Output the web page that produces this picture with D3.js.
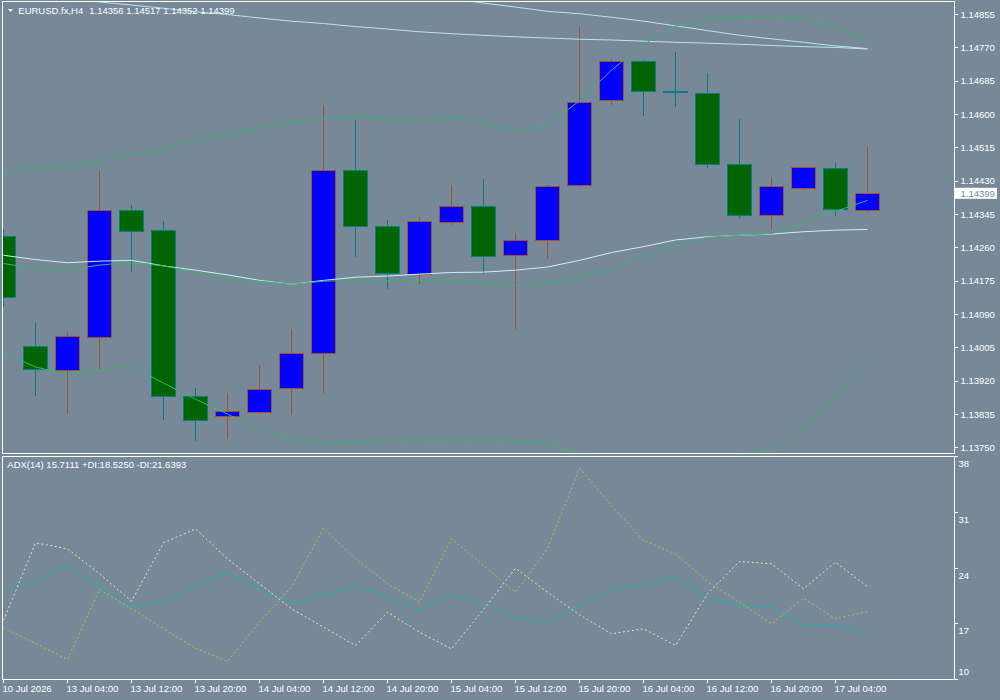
<!DOCTYPE html>
<html><head><meta charset="utf-8">
<script src="https://cdn.jsdelivr.net/npm/d3@7"></script>
<style>
html,body{margin:0;padding:0;background:#778899;}
svg{display:block;}
text{font-family:"Liberation Sans",Arial,sans-serif;font-size:9.5px;fill:#ffffff;}
</style></head><body>
<svg id="c" width="1000" height="700"></svg>
<script>
// ---------- data ----------
const symbol = "EURUSD.fx,H4";
const tickIdx = [0,2,4,6,8,10,12,14,16,18,20,22,24,26];
const tickLabels = ["10 Jul 2026","13 Jul 04:00","13 Jul 12:00","13 Jul 20:00","14 Jul 04:00","14 Jul 12:00","14 Jul 20:00","15 Jul 04:00","15 Jul 12:00","15 Jul 20:00","16 Jul 04:00","16 Jul 12:00","16 Jul 20:00","17 Jul 04:00"];

const open  = [1.14290,1.14009,1.13946,1.14031,1.14355,1.14304,1.13881,1.13830,1.13840,1.13901,1.13991,1.14457,1.14314,1.14192,1.14325,1.14365,1.14240,1.14279,1.14419,1.14636,1.14735,1.14658,1.14654,1.14473,1.14342,1.14411,1.14462,1.14356];
const high  = [1.14307,1.14070,1.14045,1.14455,1.14369,1.14328,1.13902,1.13889,1.13961,1.14053,1.14624,1.14586,1.14331,1.14338,1.14420,1.14435,1.14297,1.14420,1.14823,1.14743,1.14739,1.14759,1.14705,1.14588,1.14440,1.14465,1.14478,1.14517];
const low   = [1.14109,1.13882,1.13836,1.13951,1.14199,1.13821,1.13768,1.13773,1.13836,1.13833,1.13890,1.14237,1.14155,1.14168,1.14318,1.14194,1.14053,1.14232,1.14415,1.14624,1.14596,1.14619,1.14464,1.14336,1.14308,1.14408,1.14341,1.14352];
const close = [1.14133,1.13950,1.14034,1.14355,1.14302,1.13881,1.13820,1.13843,1.13899,1.13991,1.14457,1.14314,1.14194,1.14327,1.14365,1.14238,1.14279,1.14416,1.14631,1.14735,1.14659,1.14657,1.14473,1.14342,1.14416,1.14465,1.14358,1.14399];

// Bollinger bands (green)
const bbUpper  = [1.14450,1.14467,1.14468,1.14481,1.14496,1.14514,1.14535,1.14550,1.14565,1.14580,1.14589,1.14596,1.14589,1.14587,1.14594,1.14580,1.14555,1.14573,1.14635,1.14713,1.14779,1.14825,1.14843,1.14848,1.14851,1.14847,1.14823,1.14788];
const bbMiddle = [1.14220,1.14207,1.14203,1.14216,1.14223,1.14214,1.14198,1.14183,1.14175,1.14167,1.14175,1.14177,1.14176,1.14177,1.14175,1.14170,1.14165,1.14170,1.14185,1.14208,1.14236,1.14264,1.14287,1.14292,1.14296,1.14324,1.14353,1.14381];
const bbLower  = [1.13992,1.13956,1.13938,1.13949,1.13958,1.13915,1.13874,1.13836,1.13795,1.13771,1.13763,1.13764,1.13766,1.13767,1.13767,1.13766,1.13767,1.13760,1.13735,1.13703,1.13693,1.13703,1.13731,1.13736,1.13741,1.13801,1.13883,1.13973];

// light cyan lines
const cyanMiddle = [1.14241,1.14230,1.14222,1.14226,1.14228,1.14214,1.14203,1.14191,1.14177,1.14167,1.14177,1.14185,1.14188,1.14193,1.14197,1.14198,1.14203,1.14211,1.14228,1.14248,1.14263,1.14280,1.14288,1.14292,1.14295,1.14301,1.14305,1.14307];
const cyanUpperA = [1.14912,1.14904,1.14895,1.14887,1.14879,1.14871,1.14862,1.14855,1.14846,1.14838,1.14832,1.14824,1.14818,1.14811,1.14806,1.14802,1.14798,1.14795,1.14792,1.14790,1.14787,1.14784,1.14782,1.14779,1.14776,1.14773,1.14771,1.14767];
const cyanUpperB = [null,null,null,null,null,null,null,null,null,null,null,1.14937,1.14922,1.14907,1.14895,1.14884,1.14874,1.14863,1.14857,1.14848,1.14838,1.14826,1.14814,1.14802,1.14793,1.14784,1.14775,1.14768];

// ADX(14)
const adx     = [21.17,22.30,24.31,21.68,19.00,19.83,21.68,23.47,21.43,19.42,20.67,21.80,20.30,18.66,20.63,19.48,17.82,17.19,19.23,21.26,22.05,22.84,20.33,19.29,19.08,16.90,16.87,15.7111];
const plusDI  = [16.49,14.52,12.51,21.30,18.88,16.37,13.93,12.26,17.19,21.59,29.00,25.15,22.02,19.71,27.67,24.31,20.96,26.41,36.53,31.85,27.45,25.78,22.30,19.71,16.99,20.21,17.62,18.5250];
const minusDI = [17.41,27.16,26.41,23.27,19.83,27.16,28.92,25.15,22.02,18.88,16.57,14.27,18.45,15.94,13.85,18.79,23.97,20.96,18.12,15.74,16.37,14.27,20.76,24.82,24.53,21.39,24.73,21.6393];

const priceTicks = [1.13750,1.13835,1.13920,1.14005,1.14090,1.14175,1.14260,1.14345,1.14430,1.14515,1.14600,1.14685,1.14770,1.14855];
const adxTicks = [10,17,24,31,38];

// ---------- drawing ----------
const svg = d3.select("#c");
const n = close.length;
const x = d3.scaleLinear().domain([0, n-1]).range([3.5, 867.5]);
const yP = d3.scaleLinear().domain([1.13750, 1.14855]).range([447.8, 14.5]);
const yA = d3.scaleLinear().domain([10, 38]).range([679.5, 456.5]);

const main = {x:2.5, y:1.5, w:952, h:452};
const sub  = {x:2.5, y:456.5, w:952, h:223};

svg.append("rect").attr("width",1000).attr("height",700).attr("fill","#778899");

const defs = svg.append("defs");
defs.append("clipPath").attr("id","clipMain").append("rect")
  .attr("x",main.x+0.5).attr("y",main.y+0.5).attr("width",main.w-1).attr("height",main.h-1);
defs.append("clipPath").attr("id","clipSub").append("rect")
  .attr("x",sub.x+0.5).attr("y",sub.y+0.5).attr("width",sub.w-1).attr("height",sub.h-1);

const gMain = svg.append("g").attr("clip-path","url(#clipMain)");
const bull = "#0000ff", bear = "#006400", bullLine = "#a0522d", bearLine = "#008080";
const idx = d3.range(n);

// wicks
gMain.selectAll("line.wick").data(idx).enter().append("line")
  .attr("x1", i => x(i)).attr("x2", i => x(i))
  .attr("y1", i => yP(high[i])).attr("y2", i => yP(low[i]))
  .attr("stroke", i => close[i] > open[i] ? bullLine : bearLine)
  .attr("stroke-width",1).attr("shape-rendering","crispEdges");
// bodies
gMain.selectAll("rect.body").data(idx).enter().append("rect")
  .attr("x", i => x(i)-12).attr("width",24)
  .attr("y", i => Math.min(yP(open[i]), yP(close[i])))
  .attr("height", i => Math.max(1, Math.abs(yP(open[i]) - yP(close[i]))))
  .attr("fill", i => close[i] > open[i] ? bull : bear)
  .attr("stroke", i => close[i] > open[i] ? bullLine : bearLine)
  .attr("stroke-width",1).attr("shape-rendering","crispEdges");

function drawLine(g, arr, yScale, color, dash) {
  const line = d3.line().defined(d => d != null).x((d,i) => x(i)).y(d => yScale(d));
  const p = g.append("path").datum(arr).attr("d", line)
    .attr("fill","none").attr("stroke",color).attr("stroke-width",1);
  if (dash) p.attr("stroke-dasharray", dash);
  return p;
}
const cyan = "#b8e6ea";
drawLine(gMain, cyanUpperA, yP, cyan);
drawLine(gMain, cyanUpperB, yP, cyan);
drawLine(gMain, cyanMiddle, yP, "#cdeff2");
drawLine(gMain, bbUpper, yP, "#3cb371");
drawLine(gMain, bbMiddle, yP, "#3cb371");
drawLine(gMain, bbLower, yP, "#3cb371");

// ADX sub-window
const gSub = svg.append("g").attr("clip-path","url(#clipSub)");
drawLine(gSub, adx, yA, "#20b2aa");
drawLine(gSub, plusDI, yA, "#9acd32", "2,2.5");
drawLine(gSub, minusDI, yA, "#f5deb3", "2,2.5");

// borders
[main, sub].forEach(r => svg.append("rect").attr("x",r.x).attr("y",r.y).attr("width",r.w).attr("height",r.h)
  .attr("fill","none").attr("stroke","#ffffff").attr("stroke-width",1).attr("shape-rendering","crispEdges"));

function styleAxis(g) {
  g.select(".domain").remove();
  g.attr("font-family", null).attr("font-size", null);
  g.selectAll("line").attr("stroke","#ffffff").attr("shape-rendering","crispEdges");
  g.selectAll("text").attr("fill","#ffffff");
}
// price axis
const gy = svg.append("g").attr("transform","translate(954.5,0)")
  .call(d3.axisRight(yP).tickValues(priceTicks).tickSize(3).tickPadding(3).offset(0).tickFormat(d3.format(".5f")));
styleAxis(gy);

// ADX axis
const ga = svg.append("g").attr("transform","translate(954.5,0)")
  .call(d3.axisRight(yA).tickValues(adxTicks).tickSize(3).tickPadding(1).offset(0).tickFormat(d3.format("d")));
styleAxis(ga);
ga.selectAll("text").attr("dy", d => d === 10 ? "-4.5px" : "10.5px");

// time axis
const gx = svg.append("g").attr("transform","translate(0,679.5)")
  .call(d3.axisBottom(x).tickValues(tickIdx).tickSize(3).offset(0).tickFormat((d,i) => tickLabels[i]));
styleAxis(gx);
gx.selectAll("text").attr("text-anchor","start").attr("x",-1).attr("y",9).attr("dy","0.32em");

// current price label
const last = n-1;
const fmt5 = d3.format(".5f");
svg.append("rect").attr("x",955).attr("y",yP(close[last])-5.5).attr("width",42).attr("height",11)
  .attr("fill","#ffffff");
svg.append("text").attr("x",960.5).attr("y",yP(close[last])).attr("dy","0.35em")
  .style("fill","#778899").text(fmt5(close[last]));

// header
svg.append("path").attr("d","M8,9 L13,9 L10.5,12 Z").attr("fill","#ffffff");
svg.append("text").attr("x",18.3).attr("y",10.7).attr("dy","0.35em").text(symbol);
svg.append("text").attr("x",89.3).attr("y",10.7).attr("dy","0.35em")
  .text([open[last],high[last],low[last],close[last]].map(fmt5).join(" "));
const fmt4 = d3.format(".4f");
svg.append("text").attr("x",7.3).attr("y",465).attr("dy","0.35em")
  .text(`ADX(14) ${fmt4(adx[last])} +DI:${fmt4(plusDI[last])} -DI:${fmt4(minusDI[last])}`);
</script>
</body></html>
